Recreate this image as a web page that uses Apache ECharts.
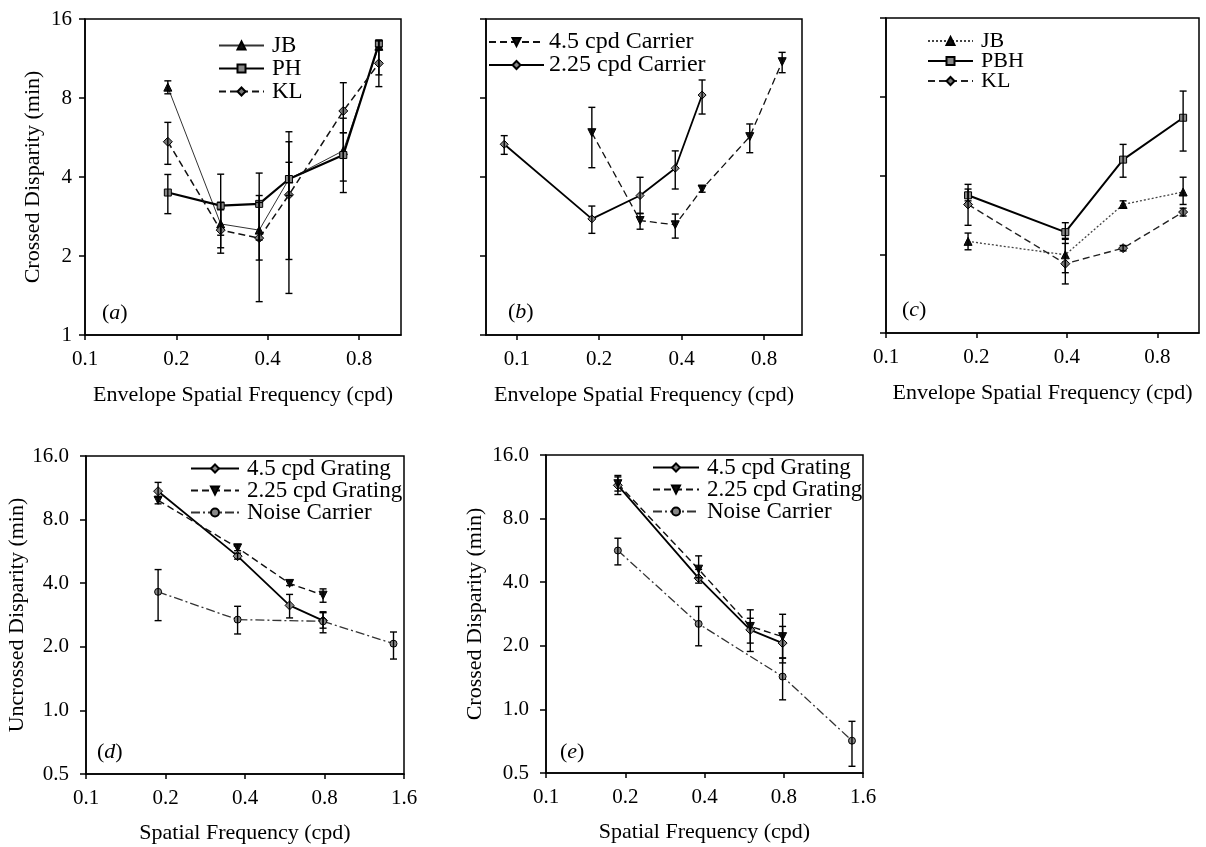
<!DOCTYPE html>
<html><head><meta charset="utf-8">
<script src="https://cdn.jsdelivr.net/npm/echarts@6/dist/echarts.min.js"></script>
<style>html,body{margin:0;padding:0;background:#fff}#c{width:1206px;height:847px}</style>
</head><body><div id="c"></div>
<script>
// ---------- DATA ----------
// x tick labels (cpd), y tick labels (min)
const xTickLabelsTop = [0.1, 0.2, 0.4, 0.8];
const xTickLabelsBottom = [0.1, 0.2, 0.4, 0.8, 1.6];
const yTickLabelsTop = [1, 2, 4, 8, 16];
const yTickLabelsBottom = [0.5, 1.0, 2.0, 4.0, 8.0, 16.0];

// Panel (a)
const aX = [0.1875, 0.28, 0.375, 0.47, 0.71, 0.93];
const aJB = [8.8, 2.65, 2.51, 3.93, 5.04, 12.6];
const aJBLo = [8.3, 2.15, 1.93, 3.4, 3.86, 9.8];
const aJBHi = [9.3, 3.2, 3.2, 4.55, 5.9, 13.2];
const aPH = [3.49, 3.11, 3.16, 3.93, 4.85, 12.9];
const aPHLo = [2.9, 2.4, 2.3, 1.94, 3.49, 12.2];
const aPHHi = [4.09, 4.1, 4.14, 5.45, 6.7, 13.3];
const aKL = [5.45, 2.51, 2.34, 3.42, 7.14, 10.84];
const aKLLo = [4.47, 2.05, 1.34, 1.44, 5.9, 8.84];
const aKLHi = [6.46, 3.0, 3.4, 5.95, 9.15, 12.5];

// Panel (b)
const bX45 = [0.188, 0.282, 0.379, 0.475, 0.709, 0.931];
const b45 = [5.90, 2.73, 2.63, 3.60, 5.70, 11.0];
const b45Lo = [4.34, 2.53, 2.34, 3.5, 4.95, 9.99];
const b45Hi = [7.37, 2.91, 2.89, 3.7, 6.37, 11.94];
const bX225 = [0.09, 0.188, 0.282, 0.379, 0.475];
const b225 = [5.33, 2.77, 3.40, 4.32, 8.21];
const b225Lo = [4.88, 2.44, 2.9, 3.6, 6.95];
const b225Hi = [5.75, 3.10, 3.99, 5.03, 9.37];

// Panel (c)
const cX = [0.1875, 0.395, 0.615, 0.974];
const cJB = [2.24, 1.99, 3.10, 3.46];
const cJBLo = [2.08, 1.7, 3.0, 3.1];
const cJBHi = [2.41, 2.3, 3.2, 3.94];
const cPBH = [3.36, 2.43, 4.6, 6.65];
const cPBHLo = [3.2, 2.28, 3.94, 4.96];
const cPBHHi = [3.7, 2.64, 5.26, 8.41];
const cKL = [3.10, 1.84, 2.11, 2.90];
const cKLLo = [2.58, 1.54, 2.06, 2.8];
const cKLHi = [3.55, 2.2, 2.16, 3.0];

// Panel (d)
const dX = [0.1875, 0.375, 0.59, 0.79];
const dNoiseX = [0.1875, 0.375, 0.79, 1.46];
const d45 = [10.9, 5.37, 3.14, 2.66];
const d45Lo = [10.2, 5.2, 2.74, 2.45];
const d45Hi = [12.0, 5.55, 3.54, 2.9];
const d225 = [9.87, 5.88, 3.99, 3.51];
const d225Lo = [9.5, 5.7, 3.9, 3.25];
const d225Hi = [10.3, 6.1, 4.1, 3.76];
const dNoise = [3.64, 2.69, 2.64, 2.07];
const dNoiseLo = [2.66, 2.30, 2.33, 1.75];
const dNoiseHi = [4.64, 3.11, 2.93, 2.35];

// Panel (e)
const eX = [0.1875, 0.38, 0.597, 0.792];
const eNoiseX = [0.1875, 0.38, 0.792, 1.453];
const e45 = [11.5, 4.18, 2.38, 2.06];
const e45Lo = [10.4, 3.96, 2.06, 1.75];
const e45Hi = [12.6, 4.6, 2.7, 2.47];
const e225 = [11.7, 4.61, 2.47, 2.21];
const e225Lo = [10.8, 4.2, 1.88, 1.66];
const e225Hi = [12.8, 5.33, 2.96, 2.82];
const eNoise = [5.65, 2.54, 1.43, 0.711];
const eNoiseLo = [4.83, 2.0, 1.11, 0.538];
const eNoiseHi = [6.46, 3.07, 1.75, 0.878];

// ---------- BUILD ----------
const FONT = '"Liberation Serif","Times New Roman",serif';
const lx = v => Math.log2(v / 0.1);
const ly = v => Math.log2(v);
const fmtX = v => String(Number((0.1 * Math.pow(2, v)).toFixed(2)));

const SOLID = 'solid', DASH = [7, 4], DOT = [2, 2], DASHDOT = [9, 3, 2, 3];

const panels = [
  { letter: 'a', grid: {left: 85, top: 19, width: 316, height: 316},
    xMin: 0, xMax: Math.log2(11), xTicks: xTickLabelsTop, yTicks: yTickLabelsTop, yFmt: v => String(Math.round(Math.pow(2, v))),
    showY: true, yName: 'Crossed Disparity (min)', yGap: 41, xName: 'Envelope Spatial Frequency (cpd)', xGap: 49, yMargin: 13,
    legend: {left: 218, top: 34, itemWidth: 45, fontSize: 23, lineHeight: 22, gap: 0, pad: 3},
    label: [102, 314],
    series: [
      {name: 'JB', x: aX, y: aJB, lo: aJBLo, hi: aJBHi, type: SOLID, width: 1, color: '#333', symbol: 'triangle', size: 8, fill: '#111'},
      {name: 'PH', x: aX, y: aPH, lo: aPHLo, hi: aPHHi, type: SOLID, width: 2.2, color: '#000', symbol: 'rect', size: 7, fill: '#888'},
      {name: 'KL', x: aX, y: aKL, lo: aKLLo, hi: aKLHi, type: DASH, width: 1.5, color: '#111', symbol: 'diamond', size: 9, fill: '#777'}
    ]},
  { letter: 'b', grid: {left: 486, top: 19, width: 316, height: 316},
    xMin: -0.373, xMax: Math.log2(11), xTicks: xTickLabelsTop, yTicks: yTickLabelsTop, yFmt: v => '',
    showY: false, yName: '', yGap: 41, xName: 'Envelope Spatial Frequency (cpd)', xGap: 49, yMargin: 13,
    legend: {left: 488, top: 30, itemWidth: 55, fontSize: 24, lineHeight: 22, gap: -1, pad: 0},
    label: [508, 313],
    series: [
      {name: '4.5 cpd Carrier', x: bX45, y: b45, lo: b45Lo, hi: b45Hi, type: DASH, width: 1.3, color: '#111', symbol: 'triangle', rotate: 180, size: 8, fill: '#111'},
      {name: '2.25 cpd Carrier', x: bX225, y: b225, lo: b225Lo, hi: b225Hi, type: SOLID, width: 1.8, color: '#000', symbol: 'diamond', size: 8, fill: '#888'}
    ]},
  { letter: 'c', grid: {left: 886, top: 18, width: 313, height: 315},
    xMin: 0, xMax: Math.log2(11), xTicks: xTickLabelsTop, yTicks: yTickLabelsTop, yFmt: v => '',
    showY: false, yName: '', yGap: 41, xName: 'Envelope Spatial Frequency (cpd)', xGap: 49, yMargin: 13,
    legend: {left: 927, top: 30, itemWidth: 45, fontSize: 22, lineHeight: 19, gap: -2, pad: 3},
    label: [902, 311],
    series: [
      {name: 'JB', x: cX, y: cJB, lo: cJBLo, hi: cJBHi, type: DOT, width: 1.3, color: '#444', symbol: 'triangle', size: 8, fill: '#111'},
      {name: 'PBH', x: cX, y: cPBH, lo: cPBHLo, hi: cPBHHi, type: SOLID, width: 2, color: '#000', symbol: 'rect', size: 7, fill: '#888'},
      {name: 'KL', x: cX, y: cKL, lo: cKLLo, hi: cKLHi, type: DASH, width: 1.4, color: '#222', symbol: 'diamond', size: 9, fill: '#777'}
    ]},
  { letter: 'd', grid: {left: 86, top: 456, width: 318, height: 318},
    xMin: 0, xMax: 4, xTicks: xTickLabelsBottom, yTicks: yTickLabelsBottom, yFmt: v => Math.pow(2, v).toFixed(1),
    showY: true, yName: 'Uncrossed Disparity (min)', yGap: 46, xName: 'Spatial Frequency (cpd)', xGap: 48, yMargin: 17,
    legend: {left: 190, top: 457, itemWidth: 48, fontSize: 23, lineHeight: 20, gap: -1, pad: 3},
    label: [97, 753],
    series: [
      {name: '4.5 cpd Grating', x: dX, y: d45, lo: d45Lo, hi: d45Hi, type: SOLID, width: 1.8, color: '#000', symbol: 'diamond', size: 9, fill: '#888'},
      {name: '2.25 cpd Grating', x: dX, y: d225, lo: d225Lo, hi: d225Hi, type: DASH, width: 1.4, color: '#111', symbol: 'triangle', rotate: 180, size: 8, fill: '#111'},
      {name: 'Noise Carrier', x: dNoiseX, y: dNoise, lo: dNoiseLo, hi: dNoiseHi, type: DASHDOT, width: 1.3, color: '#333', symbol: 'circle', size: 7, fill: '#888'}
    ]},
  { letter: 'e', grid: {left: 546, top: 455, width: 317, height: 318},
    xMin: 0, xMax: 4, xTicks: xTickLabelsBottom, yTicks: yTickLabelsBottom, yFmt: v => Math.pow(2, v).toFixed(1),
    showY: true, yName: 'Crossed Disparity (min)', yGap: 60, xName: 'Spatial Frequency (cpd)', xGap: 48, yMargin: 17,
    legend: {left: 652, top: 456, itemWidth: 46, fontSize: 23, lineHeight: 20, gap: -1, pad: 3},
    label: [560, 753],
    series: [
      {name: '4.5 cpd Grating', x: eX, y: e45, lo: e45Lo, hi: e45Hi, type: SOLID, width: 1.8, color: '#000', symbol: 'diamond', size: 9, fill: '#888'},
      {name: '2.25 cpd Grating', x: eX, y: e225, lo: e225Lo, hi: e225Hi, type: DASH, width: 1.4, color: '#111', symbol: 'triangle', rotate: 180, size: 8, fill: '#111'},
      {name: 'Noise Carrier', x: eNoiseX, y: eNoise, lo: eNoiseLo, hi: eNoiseHi, type: DASHDOT, width: 1.3, color: '#333', symbol: 'circle', size: 7, fill: '#888'}
    ]}
];

const option = {
  backgroundColor: '#fff', animation: false,
  textStyle: {fontFamily: FONT, color: '#000'},
  grid: [], xAxis: [], yAxis: [], series: [], legend: [], graphic: []
};

function errRender(params, api) {
  const x = api.value(0), lo = api.value(1), hi = api.value(2);
  const p1 = api.coord([x, lo]), p2 = api.coord([x, hi]);
  const w = 3.5;
  const st = {stroke: '#000', lineWidth: 1.4};
  return {type: 'group', children: [
    {type: 'line', shape: {x1: p1[0], y1: p1[1], x2: p2[0], y2: p2[1]}, style: st},
    {type: 'line', shape: {x1: p1[0] - w, y1: p1[1], x2: p1[0] + w, y2: p1[1]}, style: st},
    {type: 'line', shape: {x1: p2[0] - w, y1: p2[1], x2: p2[0] + w, y2: p2[1]}, style: st}
  ]};
}

panels.forEach((p, i) => {
  option.grid.push(Object.assign({show: true, borderColor: '#000', borderWidth: 1.5, backgroundColor: 'transparent'}, p.grid));
  const xt = p.xTicks.map(v => lx(v));
  const yt = p.yTicks.map(v => ly(v));
  const yMin = yt[0], yMax = yt[yt.length - 1];
  option.xAxis.push({
    type: 'value', gridIndex: i, min: p.xMin, max: p.xMax,
    axisLine: {show: true, onZero: false, lineStyle: {color: '#000', width: 1.5}},
    axisTick: {show: true, customValues: xt, length: 5, lineStyle: {color: '#000', width: 1.5}},
    axisLabel: {show: true, customValues: xt, formatter: fmtX, margin: 14, fontSize: 21, fontFamily: FONT, color: '#000'},
    splitLine: {show: false},
    name: p.xName, nameLocation: 'middle', nameGap: p.xGap,
    nameTextStyle: {fontSize: 22, fontFamily: FONT, color: '#000'}
  });
  option.yAxis.push({
    type: 'value', gridIndex: i, min: yMin, max: yMax,
    axisLine: {show: true, onZero: false, lineStyle: {color: '#000', width: 1.5}},
    axisTick: {show: true, customValues: yt, length: 6, lineStyle: {color: '#000', width: 1.5}},
    axisLabel: {show: p.showY, customValues: yt, formatter: p.yFmt, margin: p.yMargin, fontSize: 21, fontFamily: FONT, color: '#000'},
    splitLine: {show: false},
    name: p.yName, nameLocation: 'middle', nameGap: p.yGap,
    nameTextStyle: {fontSize: 22, fontFamily: FONT, color: '#000'}
  });
  const names = [];
  p.series.forEach(s => {
    const id = p.letter + '|' + s.name;
    names.push(id);
    option.series.push({
      type: 'custom', xAxisIndex: i, yAxisIndex: i, renderItem: errRender, z: 4, silent: true,
      data: s.x.map((x, k) => [lx(x), ly(s.lo[k]), ly(s.hi[k])])
    });
    option.series.push({
      name: id, type: 'line', xAxisIndex: i, yAxisIndex: i, z: 3,
      data: s.x.map((x, k) => [lx(x), ly(s.y[k])]),
      symbol: s.symbol, symbolSize: s.size, symbolRotate: s.rotate || 0, showSymbol: true,
      lineStyle: {color: s.color, width: s.width, type: s.type},
      itemStyle: {color: s.fill, borderColor: '#000', borderWidth: 1}
    });
  });
  option.legend.push({
    data: names, orient: 'vertical', left: p.legend.left, top: p.legend.top, padding: 0,
    itemWidth: p.legend.itemWidth, itemHeight: 10, itemGap: p.legend.gap, selectedMode: false,
    formatter: n => n.split('|')[1],
    textStyle: {fontSize: p.legend.fontSize, lineHeight: p.legend.lineHeight, fontFamily: FONT, color: '#000', padding: [0, 0, 0, p.legend.pad]}
  });
  option.graphic.push({
    type: 'text', left: p.label[0], top: p.label[1] - 12, z: 10,
    style: {text: '{n|(}{i|' + p.letter + '}{n|)}', rich: {
      n: {fontSize: 22, fontFamily: FONT, fill: '#000'},
      i: {fontSize: 22, fontFamily: FONT, fontStyle: 'italic', fill: '#000'}
    }}
  });
});

const chart = echarts.init(document.getElementById('c'), null, {renderer: 'canvas'});
chart.setOption(option);
</script>
</body></html>
